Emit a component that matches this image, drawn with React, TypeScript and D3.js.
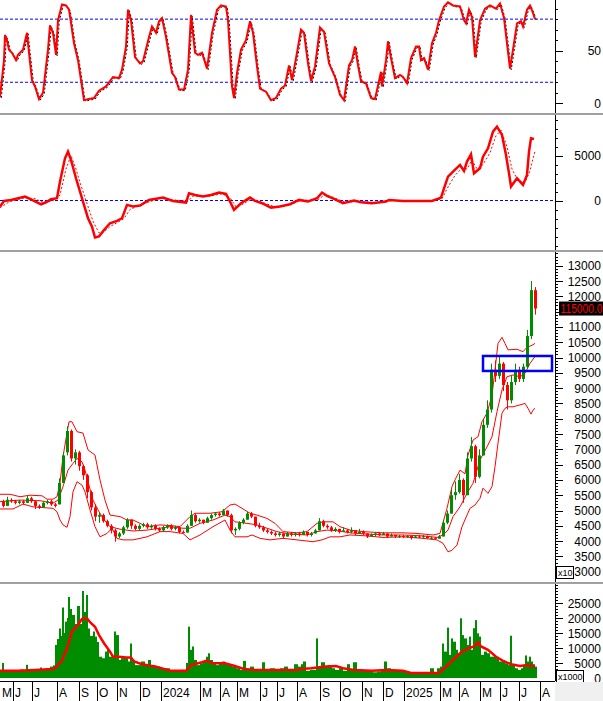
import React, { useEffect, useRef } from "react";
import * as d3 from "d3";

// ---------- DATA (x = trading-session index) ----------
const candleDays = d3.range(134).map((i) => 3 + 4 * i);
const opens = [5300,5150,5350,5300,5250,5300,5250,5400,5300,5150,5100,5250,5300,5200,5200,5900,6900,7600,6700,6900,6450,6150,5600,5100,4800,4850,4650,4500,4350,4150,4250,4450,4700,4500,4400,4500,4550,4450,4500,4400,4350,4450,4500,4400,4450,4300,4280,4500,4850,4650,4700,4600,4750,4850,4900,4850,5000,4850,4350,4400,4600,4700,4900,4800,4500,4450,4350,4300,4250,4200,4250,4150,4250,4200,4250,4200,4300,4200,4250,4350,4650,4500,4450,4350,4400,4300,4350,4300,4350,4250,4300,4250,4150,4200,4250,4200,4250,4150,4200,4130,4160,4150,4170,4100,4150,4130,4160,4100,4110,4080,4150,4600,4900,5500,5600,6000,5500,6700,7100,6100,6800,7800,8300,9600,9400,9800,9100,8600,9200,9600,9300,9700,10700,12200];
const highs = [5350,5450,5400,5350,5350,5350,5500,5450,5300,5200,5300,5350,5350,5250,6050,6900,7750,7650,7000,6950,6500,6200,5650,5200,4950,4900,4700,4550,4400,4300,4500,4750,4700,4550,4550,4600,4600,4550,4550,4450,4500,4550,4550,4500,4450,4350,4550,5000,4900,4750,4700,4800,4900,4950,4950,5050,5000,4900,4450,4650,4750,4950,4950,4800,4600,4500,4400,4350,4300,4300,4250,4300,4300,4300,4300,4350,4300,4300,4400,4750,4700,4550,4500,4450,4400,4450,4400,4450,4350,4400,4350,4250,4250,4300,4300,4300,4250,4250,4200,4200,4200,4200,4170,4200,4200,4200,4180,4150,4130,4200,4700,5000,5700,5950,6200,6050,6900,7400,7150,7000,8000,8600,9800,9900,10050,9850,9200,9400,9800,9700,9800,10900,12500,12300];
const lows = [5100,5150,5250,5200,5200,5200,5250,5250,5050,5050,5100,5200,5150,5100,5200,5900,6800,6600,6500,6300,6000,5400,5000,4650,4600,4600,4450,4250,3980,4100,4200,4400,4400,4350,4350,4450,4400,4400,4350,4300,4300,4400,4350,4350,4250,4250,4280,4500,4600,4600,4550,4600,4700,4800,4800,4850,4800,4250,4200,4350,4550,4700,4750,4450,4400,4300,4250,4200,4150,4150,4100,4150,4150,4150,4150,4200,4150,4150,4250,4350,4450,4400,4300,4300,4250,4300,4250,4250,4200,4250,4200,4100,4150,4150,4150,4200,4100,4150,4100,4100,4100,4100,4050,4100,4100,4100,4080,4050,4050,4080,4150,4550,4900,5350,5550,5250,5500,6600,5900,6050,6800,7700,8200,9200,9300,8900,8300,8500,9100,9200,9200,9650,10600,11400];
const closes = [5150,5350,5300,5250,5300,5250,5400,5300,5150,5100,5250,5300,5200,5150,5900,6800,7600,6700,6900,6450,6150,5600,5100,4800,4850,4650,4500,4350,4150,4250,4450,4700,4500,4400,4500,4550,4450,4500,4400,4350,4450,4500,4400,4450,4300,4280,4500,4850,4650,4700,4600,4750,4850,4900,4850,5000,4850,4350,4400,4600,4700,4900,4800,4500,4450,4350,4300,4250,4200,4250,4150,4250,4200,4250,4200,4300,4200,4250,4350,4650,4500,4450,4350,4400,4300,4350,4300,4350,4250,4300,4250,4150,4200,4250,4200,4250,4150,4200,4150,4160,4150,4170,4100,4150,4130,4160,4100,4110,4080,4150,4600,4900,5500,5600,6000,5500,6700,7100,6100,6800,7800,8300,9600,9400,9800,9100,8600,9200,9600,9300,9700,10700,12200,11600];

const bbUpperDays = [0,10,20,30,42,47,53,57,60,63,67,69,72,77,83,88,95,100,105,110,120,127,133,147,160,173,180,190,195,210,222,230,235,242,250,257,267,275,283,297,307,317,323,333,340,350,363,383,403,417,433,440,447,452,455,460,465,468,473,478,482,487,492,495,498,502,505,508,517,523,527,532,535];
const bbUpper = [5530,5530,5450,5500,5480,5370,5370,5450,5900,6760,7530,7900,7900,7575,7530,6980,6810,6000,5340,4850,4800,4690,4690,4470,4530,4500,4470,4800,4910,4910,4960,5180,5210,5070,4910,4850,4740,4580,4310,4270,4310,4580,4630,4630,4470,4360,4310,4270,4270,4250,4200,4250,5070,5780,6000,6320,6200,6810,7300,7410,7900,8180,8770,9590,10460,10660,10460,10250,10270,10190,10330,10400,10460];
const bbMidDays = [0,20,40,53,58,63,68,73,77,82,85,88,93,98,103,110,120,133,147,160,170,183,190,200,213,225,230,235,247,257,267,277,290,307,317,327,337,350,367,383,403,423,437,443,448,453,460,467,473,480,487,492,497,502,507,513,520,525,530,535];
const bbMid = [5290,5340,5320,5240,5340,5780,6320,6540,6700,6590,6320,5940,5340,5020,4740,4470,4390,4330,4360,4420,4470,4420,4420,4580,4690,4850,4800,4630,4580,4530,4420,4310,4230,4200,4310,4360,4340,4270,4230,4200,4200,4170,4120,4200,4360,4800,5120,5560,5890,6650,7080,7410,8230,8940,9370,9430,9370,9480,9810,10030];
const bbLowerDays = [0,13,23,33,53,57,60,63,67,70,73,77,82,85,90,95,100,107,112,117,123,133,147,160,170,183,190,200,213,225,230,235,247,252,260,270,283,297,313,322,330,340,350,367,383,403,423,437,443,448,452,457,462,467,470,475,480,483,488,492,495,498,502,505,508,513,520,525,528,531,533,535];
const bbLower = [5050,5050,5210,5120,5070,4960,4690,4530,4450,4800,5610,5940,5830,5610,5020,4470,4140,4250,4420,4090,4040,4040,4140,4310,4310,4250,4040,4200,4470,4690,4360,4140,4140,4200,4090,4040,4090,4040,3980,4040,4140,4140,4200,4170,4120,4140,4090,4040,3930,3650,3700,3870,4470,4850,5070,5180,5400,5730,5560,5780,6430,7200,8180,8340,8390,8390,8450,8500,8340,8150,8280,8340];

const stochDays = [0,4,5,7,9,12,16,18,20,23,27,28,32,35,39,43,48,50,53,56,58,62,66,69,74,78,81,84,89,94,99,106,113,119,122,126,128,131,135,140,143,149,152,156,159,162,166,172,175,179,184,188,191,195,198,202,207,212,217,221,226,228,232,234,237,241,246,250,253,257,260,266,271,276,281,285,289,292,297,301,304,308,311,315,320,324,329,335,340,344,349,352,355,358,361,366,371,375,381,382,386,388,391,395,400,403,407,411,416,419,421,424,428,432,436,439,444,448,453,460,464,466,469,472,475,480,485,490,496,500,504,510,513,517,521,523,527,530,533,535];
const stochK = [6,41,65,60,51,48,41,46,48,51,67,57,22,16,4,10,51,74,67,46,79,94,93,89,57,41,22,3,4,5,12,16,25,24,32,54,89,79,44,38,40,63,73,67,78,81,63,29,25,13,13,32,84,48,46,48,33,67,89,93,92,79,16,5,29,51,60,78,67,35,14,11,3,5,14,17,36,22,48,70,67,38,21,35,72,68,38,25,8,3,36,41,54,36,21,19,5,4,30,16,41,59,43,24,27,25,19,43,54,54,41,43,32,57,67,79,92,96,93,92,79,76,89,82,44,79,90,93,90,95,81,33,51,76,78,73,89,93,86,80];

const macdDays = [0,4,11,25,32,41,46,51,57,60,65,68,71,76,83,88,92,95,99,104,110,117,122,127,133,140,149,163,173,186,189,195,203,211,219,226,230,234,241,250,255,262,271,280,290,299,308,317,322,327,334,343,354,361,372,386,389,403,432,441,444,448,453,460,464,467,471,474,480,483,488,493,497,502,506,509,511,517,523,527,529,531,534];
const macdLine = [-675,-50,65,435,65,-420,-195,140,250,2100,4690,5430,4500,2470,-120,-1970,-2900,-4120,-4000,-3270,-2525,-2270,-1970,-490,-675,-560,65,325,-46,-230,805,620,435,620,880,730,-120,-1045,-305,324,-46,-305,-790,-675,-415,65,-120,250,880,510,175,-305,-10,-195,-305,-120,65,-46,-46,325,1360,2655,3210,3950,3285,4320,5135,3025,3580,4875,5800,7650,8205,7280,5060,3025,1545,2470,1730,2840,5430,6910,6835];
const signalDays = [0,10,25,35,45,55,60,66,71,76,80,86,93,99,104,110,118,124,130,136,145,160,175,188,193,210,222,230,236,243,252,262,275,290,300,318,325,332,345,360,380,392,432,442,448,455,462,467,472,477,483,490,496,501,507,512,518,525,530,535];
const signalLine = [-800,-100,300,200,-300,100,600,3500,5000,3500,2000,0,-2300,-3600,-3500,-2900,-2400,-2000,-1000,-700,-300,250,50,-100,500,500,750,300,-700,-400,200,-200,-700,-500,0,100,650,400,-200,-100,-250,0,-50,200,1500,2800,3600,3500,4500,3500,4000,5300,7200,7800,6000,3500,2200,2000,3300,5500];

const volDays = [0,2,4,8,12,16,20,24,26,28,32,36,40,42,46,50,53,55,57,59,61,62,64,65,67,68,70,72,75,77,80,82,84,86,88,90,93,95,97,99,102,105,107,109,112,114,116,119,121,123,125,128,130,132,135,138,141,145,148,151,155,160,165,170,175,180,184,186,188,190,192,194,197,200,203,206,208,210,213,216,219,222,225,228,232,236,240,243,246,250,254,258,262,265,270,275,280,284,288,292,294,298,301,303,306,310,313,316,318,321,325,328,332,335,339,343,347,350,353,357,361,365,369,373,377,381,384,387,391,395,400,405,410,415,420,425,430,434,437,440,442,444,447,449,451,453,456,458,460,462,464,467,469,471,473,475,477,479,481,484,487,490,493,496,499,502,505,508,510,512,515,518,521,523,525,527,529,531,533,535];
const volumes = [2200,5000,2300,2600,2200,2500,2800,2300,4400,2500,2700,2900,3500,3000,3200,3800,4200,11000,13000,16500,14000,23500,15000,18800,20000,27000,23000,21000,18000,24000,18000,29000,22000,27700,16500,14000,15500,13800,12000,7100,6600,8800,9400,7100,7100,15500,14300,6000,6600,7100,6600,5500,11500,6000,4300,4300,5500,4300,6000,4300,3800,3250,3250,2400,2200,2700,2700,5000,17100,9400,10500,6000,4300,4900,5500,7100,8250,6000,4900,4300,4900,5500,4900,4300,3800,3250,2700,5700,2700,3800,2700,2400,5250,2400,3250,2400,3250,3800,2700,3000,4600,3800,4600,5500,2400,2700,2700,13200,3800,5250,3800,4300,3250,2700,3250,2400,4600,2700,5250,2400,2700,2400,2200,1900,2200,2700,5500,3250,2400,2700,2400,1900,1600,1600,1600,1900,3250,1600,3250,3800,11500,8800,16800,7700,13200,12100,9400,7700,19900,14300,13200,11000,13800,9400,16600,19300,14900,13800,7700,8800,8250,7100,7100,6600,5500,6000,4900,4300,14100,4300,3250,2700,3250,4300,7500,5500,7100,5500,4600,3800];
const volMaDays = [0,18,35,53,57,62,67,72,78,82,87,90,95,99,104,110,113,119,126,131,134,142,156,170,186,191,202,207,212,225,234,244,255,280,297,301,311,326,336,343,354,372,386,403,411,439,446,453,460,467,474,478,481,488,496,503,511,520,527,535];
const volMa = [2400,2400,2700,3000,3800,6000,9900,15500,17700,19700,19900,18600,17100,14300,11600,8800,7100,7100,6800,6800,5500,4600,3800,2400,2400,4300,5250,5800,4900,4900,4100,3000,2700,2700,2700,3000,3250,3800,4000,3250,2700,2400,2700,2400,1700,1700,3800,6000,8250,9700,10500,11900,10500,9400,7100,5700,4600,4000,4300,3800];

// axis labels
const stochLabels = [0, 50];
const stochLevels = [20, 80];
const macdLabels = [0, 5000];
const priceLabels = [3000,3500,4000,4500,5000,5500,6000,6500,7000,7500,8000,8500,9000,9500,10000,10500,11000,11500,12000,12500,13000];
const volLabels = [0, 5000, 10000, 15000, 20000, 25000];
const monthNames = ["M","J","J","A","S","O","N","D","2024","M","A","M","J","J","A","S","O","N","D","2025","M","A","M","J","J","A"];
const monthStartDays = [13,32,57,79,97,117,140,161,200,220,237,260,277,297,320,340,362,383,404,440,459,480,500,519,540];
const zone = { startDay: 483, endDay: 552, low: 9560, high: 10050 };
const lastPriceLabel = "115000.0";

const RED = "#ff0000";
const GREEN = "#008c00";
const FONT = "'Liberation Sans', Arial, sans-serif";

export default function App() {
  const ref = useRef<SVGSVGElement>(null);
  useEffect(() => {
    const svg = d3.select(ref.current);
    svg.selectAll("*").remove();
    const AX = 555;
    const x = d3.scaleLinear().domain([0, 555]).range([0, 555]);

    svg.append("rect").attr("width", 603).attr("height", 701).attr("fill", "#fff");

    const panels = [
      { top: 0, bottom: 113 },
      { top: 115, bottom: 250 },
      { top: 252, bottom: 582 },
      { top: 584, bottom: 681 },
    ];
    const defs = svg.append("defs");
    panels.forEach((p, i) => {
      defs.append("clipPath").attr("id", "clip" + i)
        .append("rect").attr("x", 0).attr("y", p.top).attr("width", AX).attr("height", p.bottom - p.top);
    });
    defs.append("clipPath").attr("id", "clipMarker")
      .append("rect").attr("x", 0).attr("y", 0).attr("width", 603).attr("height", 701);

    const yS = d3.scaleLinear().domain([0, 100]).range([103.3, -1.9]);
    const yM = d3.scaleLinear().domain([0, 5000]).range([200.5, 155.5]);
    const yP = d3.scaleLinear().domain([3000, 13000]).range([571.7, 265.7]);
    const yV = d3.scaleLinear().domain([0, 25000]).range([678, 603]);

    // ---------- panel 1: stochastic ----------
    const g1 = svg.append("g").attr("clip-path", "url(#clip0)");
    stochLevels.forEach((lv) => {
      g1.append("line").attr("x1", 0).attr("x2", AX).attr("y1", yS(lv)).attr("y2", yS(lv))
        .attr("stroke", "#0000ff").attr("stroke-width", 1).attr("stroke-dasharray", "3,2");
    });
    const sLine = d3.line<number>().x((_, i) => x(stochDays[i])).y((d) => yS(d));
    g1.append("path").attr("d", sLine(stochK)).attr("fill", "none").attr("stroke", "#000")
      .attr("stroke-width", 1).attr("stroke-dasharray", "2,2").attr("transform", "translate(1.2,1)");
    g1.append("path").attr("d", sLine(stochK)).attr("fill", "none").attr("stroke", RED).attr("stroke-width", 2);

    // ---------- panel 2: MACD ----------
    const g2 = svg.append("g").attr("clip-path", "url(#clip1)");
    g2.append("line").attr("x1", 0).attr("x2", AX).attr("y1", yM(0)).attr("y2", yM(0))
      .attr("stroke", "#0000ff").attr("stroke-width", 1).attr("stroke-dasharray", "3,2");
    const sigL = d3.line<number>().x((_, i) => x(signalDays[i])).y((d) => yM(d));
    g2.append("path").attr("d", sigL(signalLine)).attr("fill", "none").attr("stroke", RED)
      .attr("stroke-width", 1).attr("stroke-dasharray", "2,2");
    const macdL = d3.line<number>().x((_, i) => x(macdDays[i])).y((d) => yM(d));
    g2.append("path").attr("d", macdL(macdLine)).attr("fill", "none").attr("stroke", RED).attr("stroke-width", 2.5);

    // ---------- panel 3: price ----------
    const g3 = svg.append("g").attr("clip-path", "url(#clip2)");
    const band = (days: number[], vals: number[]) =>
      d3.line<number>().x((_, i) => x(days[i])).y((d) => yP(d))(vals);
    [[bbUpperDays, bbUpper], [bbMidDays, bbMid], [bbLowerDays, bbLower]].forEach(([dd, vv]) => {
      g3.append("path").attr("d", band(dd as number[], vv as number[])).attr("fill", "none")
        .attr("stroke", RED).attr("stroke-width", 1);
    });
    const cw = 3;
    candleDays.forEach((d, i) => {
      const up = closes[i] >= opens[i];
      const col = up ? GREEN : RED;
      const cx = Math.round(x(d));
      g3.append("line").attr("x1", cx + 0.5).attr("x2", cx + 0.5).attr("y1", yP(highs[i])).attr("y2", yP(lows[i]))
        .attr("stroke", col).attr("stroke-width", 1);
      const top = yP(Math.max(opens[i], closes[i]));
      const bot = yP(Math.min(opens[i], closes[i]));
      g3.append("rect").attr("x", cx - 1).attr("y", top).attr("width", cw).attr("height", Math.max(1, bot - top)).attr("fill", col);
    });
    g3.append("rect")
      .attr("x", x(zone.startDay)).attr("y", yP(zone.high))
      .attr("width", x(zone.endDay) - x(zone.startDay)).attr("height", yP(zone.low) - yP(zone.high))
      .attr("fill", "none").attr("stroke", "#0000ff").attr("stroke-width", 2.5);

    // ---------- panel 4: volume ----------
    const g4 = svg.append("g").attr("clip-path", "url(#clip3)");
    volDays.forEach((d, i) => {
      const next = i < volDays.length - 1 ? volDays[i + 1] : d + 2;
      const w = Math.max(1, x(next) - x(d));
      g4.append("rect").attr("x", x(d)).attr("y", yV(volumes[i])).attr("width", w)
        .attr("height", yV(0) - yV(volumes[i])).attr("fill", GREEN);
    });
    const vmL = d3.line<number>().x((_, i) => x(volMaDays[i])).y((d) => yV(d));
    g4.append("path").attr("d", vmL(volMa)).attr("fill", "none").attr("stroke", RED).attr("stroke-width", 2.5);

    // ---------- separators ----------
    [113, 250, 582].forEach((yy) => {
      svg.append("rect").attr("x", 0).attr("y", yy).attr("width", 603).attr("height", 2).attr("fill", "#a0a0a0");
    });

    // last price marker position (hides the axis label under it)
    const ly = yP(closes[closes.length - 1]);

    // ---------- axes ----------
    const axis = (top: number, bottom: number, scale: d3.ScaleLinear<number, number>, minorStep: number, labels: number[], hideNear?: number) => {
      const g = svg.append("g");
      g.append("line").attr("x1", AX + 0.5).attr("x2", AX + 0.5).attr("y1", top).attr("y2", bottom)
        .attr("stroke", "#000").attr("stroke-width", 1);
      const [d0, d1] = [scale.invert(bottom), scale.invert(top)];
      const lo = Math.ceil(Math.min(d0, d1) / minorStep) * minorStep;
      const hi = Math.max(d0, d1);
      for (let v = lo; v <= hi; v += minorStep) {
        const yy = Math.round(scale(v)) + 0.5;
        if (yy < top + 1 || yy > bottom - 1) continue;
        const major = labels.includes(v);
        g.append("line").attr("x1", AX).attr("x2", AX + (major ? 8 : 3)).attr("y1", yy).attr("y2", yy)
          .attr("stroke", "#000").attr("stroke-width", 1);
      }
      labels.forEach((v) => {
        if (hideNear !== undefined && Math.abs(scale(v) - hideNear) < 9) return;
        g.append("text").attr("x", 601).attr("y", scale(v) + 4.5).attr("text-anchor", "end")
          .attr("font-family", FONT).attr("font-size", 12).attr("fill", "#000").text(String(v));
      });
    };
    axis(0, 113, yS, 10, stochLabels);
    axis(115, 250, yM, 1000, macdLabels);
    axis(252, 582, yP, 100, priceLabels, ly);
    axis(584, 681, yV, 1000, volLabels);

    // x10 / x1000 boxes
    const unitBox = (bx: number, by: number, bw: number, label: string) => {
      svg.append("rect").attr("x", bx + 0.5).attr("y", by + 0.5).attr("width", bw).attr("height", 12)
        .attr("fill", "#fff").attr("stroke", "#000").attr("stroke-width", 1);
      svg.append("text").attr("x", bx + 2).attr("y", by + 10).attr("font-family", FONT).attr("font-size", 9)
        .attr("fill", "#000").text(label);
    };
    unitBox(556, 566, 17, "x10");
    unitBox(556, 670, 27, "x1000");

    // last price marker
    svg.append("rect").attr("x", 559).attr("y", ly - 7).attr("width", 44).attr("height", 14).attr("fill", "#000");
    svg.append("text").attr("x", 560.5).attr("y", ly + 4.5).attr("font-family", FONT).attr("font-size", 12)
      .attr("textLength", 42).attr("lengthAdjust", "spacingAndGlyphs")
      .attr("fill", RED).text(lastPriceLabel);

    // ---------- x axis row ----------
    const xr = svg.append("g");
    xr.append("rect").attr("x", AX).attr("y", 682).attr("width", 48).attr("height", 19).attr("fill", "#f0f0f0");
    xr.append("line").attr("x1", 0).attr("x2", AX).attr("y1", 681.5).attr("y2", 681.5).attr("stroke", "#000");
    monthStartDays.forEach((d) => {
      const xx = Math.round(x(d)) + 0.5;
      xr.append("line").attr("x1", xx).attr("x2", xx).attr("y1", 682).attr("y2", 701).attr("stroke", "#000");
    });
    const labelDays = [0, ...monthStartDays];
    monthNames.forEach((name, i) => {
      xr.append("text").attr("x", x(labelDays[i]) + 2).attr("y", 697).attr("font-family", FONT)
        .attr("font-size", 12).attr("fill", "#000").text(name);
    });
  }, []);

  return (
    <svg ref={ref} width={603} height={701} style={{ position: "absolute", left: 0, top: 0, display: "block" }} />
  );
}
